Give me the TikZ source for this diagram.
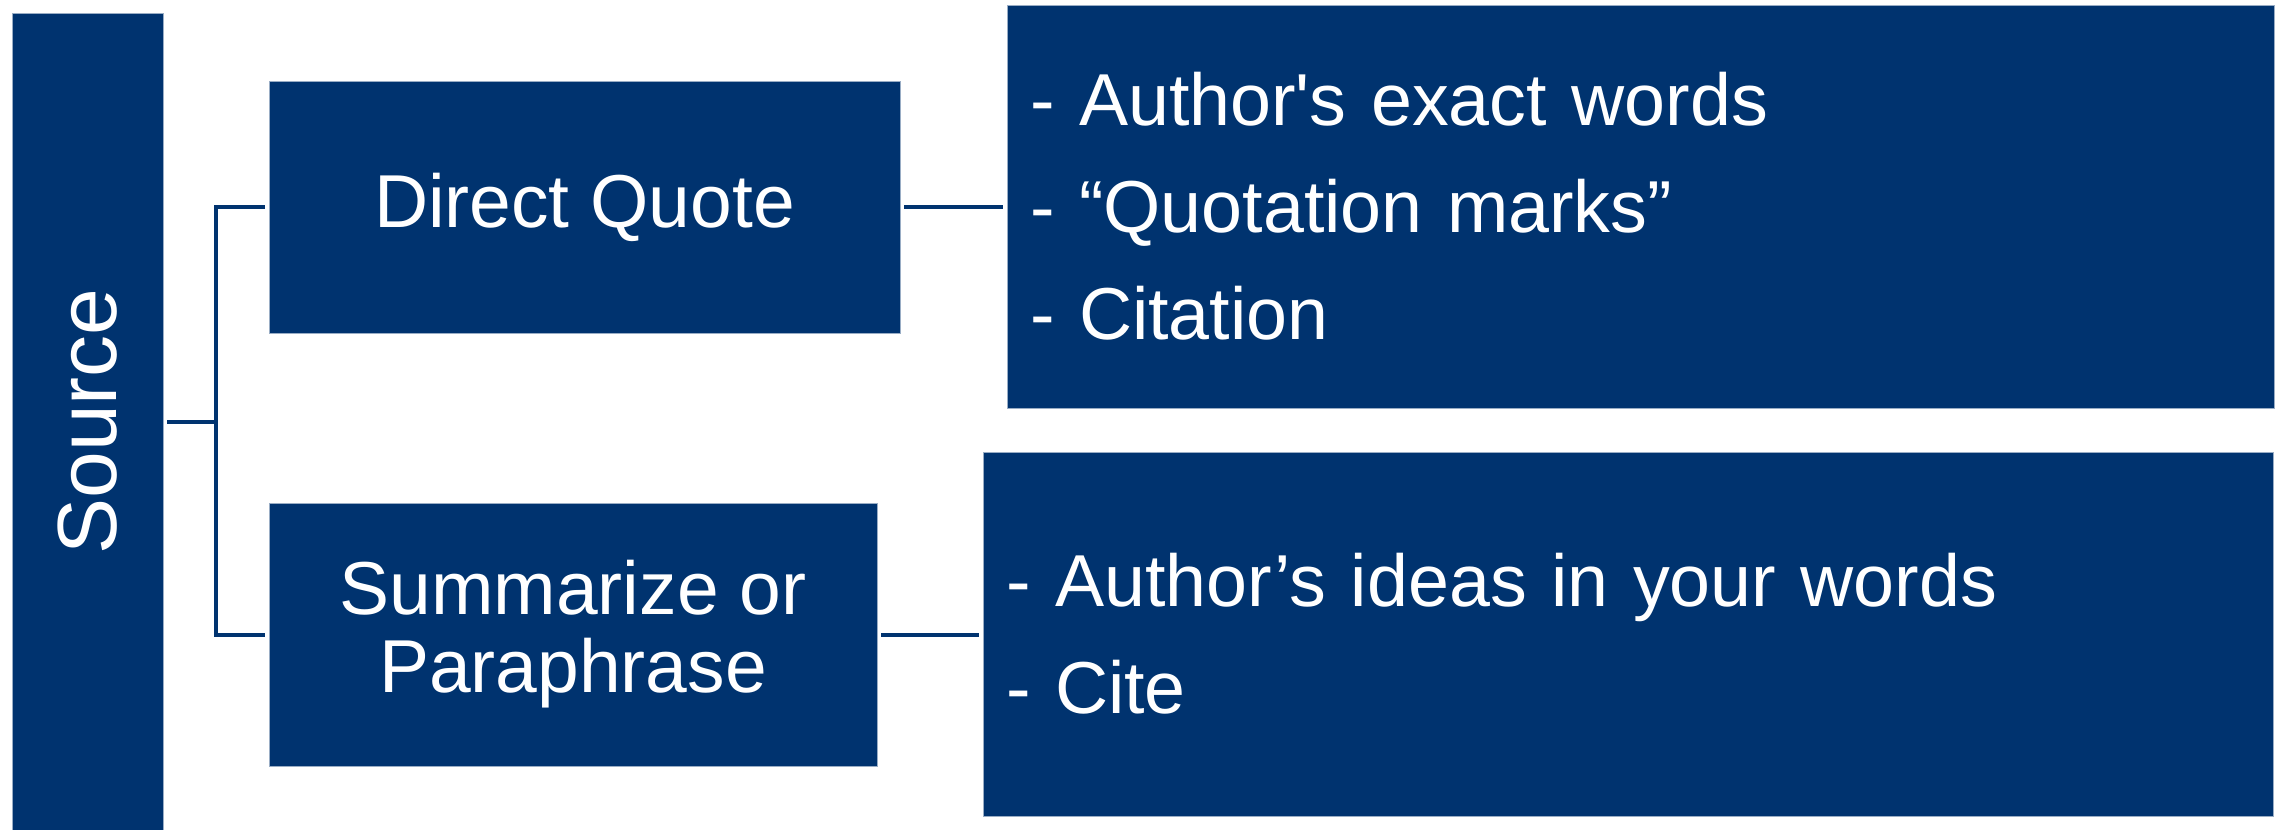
\documentclass[tikz,border=0pt]{standalone}
\usepackage{fontspec}
\setmainfont{Liberation Sans}[Ligatures=TeXOff]
\definecolor{navy}{RGB}{0,51,111}
\begin{document}
\begin{tikzpicture}[x=0.5pt,y=-0.5pt,
  box/.style={rectangle, fill=navy, draw=navy!40!white, line width=0.4pt, text=white, inner sep=0pt},
  conn/.style={draw=navy, line width=2pt},
  mid/.style={font=\fontsize{37.5pt}{39pt}\selectfont, align=center},
  list/.style={font=\fontsize{36.8pt}{53.5pt}\selectfont, align=left, inner xsep=11.5pt}]
\useasboundingbox (0,0) rectangle (2282,830);
\node[box, minimum width=75.5pt, minimum height=408.5pt, font=\fontsize{42pt}{50pt}\selectfont] (src) at (87.5,421.5) {\rotatebox{90}{Source}};
\node[box, mid, minimum width=315.5pt, minimum height=126pt] (dq) at (584.5,207) {Direct Quote};
\node[box, mid, minimum width=304pt, minimum height=131.5pt] (sp) at (573,634.5) {Summarize or\\Paraphrase};
\node[box, list, minimum width=633.5pt, minimum height=201.5pt, text width=610.5pt] (tr) at (1640.5,206.5) {- Author's exact words\\- “Quotation marks”\\- Citation};
\node[box, list, minimum width=645pt, minimum height=182pt, text width=622pt] (br) at (1628,634) {- Author’s ideas in your words\\- Cite};
\path (src.east) ++(53,0) coordinate (j);
\draw[conn, shorten <=2pt] (src.east) -- (j);
\draw[conn, shorten >=2pt] (j) |- (dq.west);
\draw[conn, shorten >=2pt] (j) |- (sp.west);
\draw[conn, shorten <=2pt, shorten >=2pt] (dq.east) -- (tr.west |- dq.east);
\draw[conn, shorten <=2pt, shorten >=2pt] (sp.east) -- (br.west |- sp.east);
\end{tikzpicture}
\end{document}
